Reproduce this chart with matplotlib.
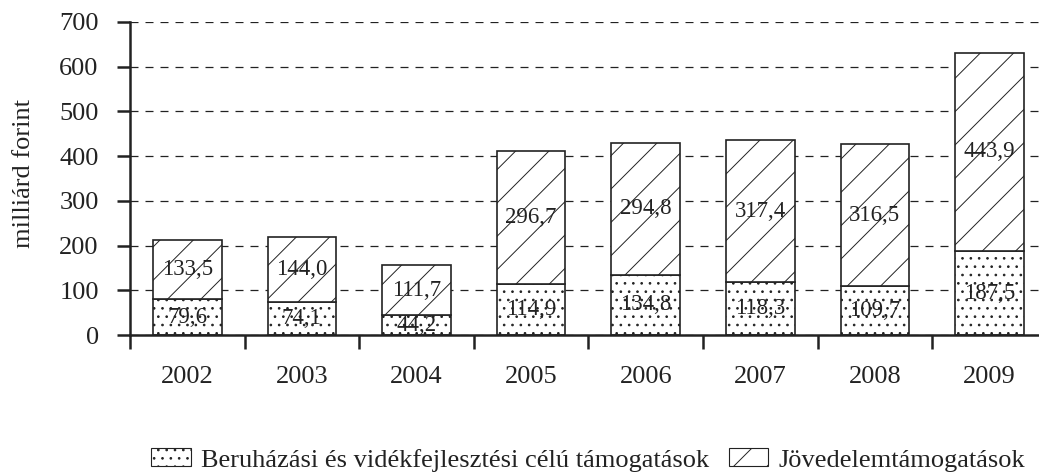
import numpy as np
import matplotlib.pyplot as plt
from matplotlib.patches import Patch

plt.rcParams['font.family'] = ['Liberation Serif', 'DejaVu Serif']
plt.rcParams['hatch.linewidth'] = 0.7
plt.rcParams['hatch.color'] = '#222222'

evek = ['2002', '2003', '2004', '2005', '2006', '2007', '2008', '2009']
beruhazasi = [79.6, 74.1, 44.2, 114.9, 134.8, 118.3, 109.7, 187.5]
jovedelem = [133.5, 144.0, 111.7, 296.7, 294.8, 317.4, 316.5, 443.9]
cimkek = ['Beruházási és vidékfejlesztési célú támogatások', 'Jövedelemtámogatások']

def fmt(v):
    return ('%.1f' % v).replace('.', ',')

fig = plt.figure(figsize=(10.39, 4.74), dpi=100)
ax = fig.add_axes([130 / 1039, 1 - 335 / 474, 909 / 1039, 313 / 474])

x = np.arange(len(evek))
w = 0.6
ax.bar(x, beruhazasi, w, color='white', edgecolor='#222222', linewidth=1.2, hatch='..', zorder=2)
ax.bar(x, jovedelem, w, bottom=beruhazasi, color='white', edgecolor='#222222', linewidth=1.2, hatch='/', zorder=2)

for i in range(len(evek)):
    ax.text(x[i], beruhazasi[i] / 2, fmt(beruhazasi[i]), ha='center', va='center', fontsize=16.5, color='#222222', zorder=3)
    ax.text(x[i], beruhazasi[i] + jovedelem[i] / 2, fmt(jovedelem[i]), ha='center', va='center', fontsize=16.5, color='#222222', zorder=3)

ax.set_xlim(-0.5, -0.5 + 909 / 114.6)
ax.set_ylim(0, 700)
ax.set_yticks(range(0, 701, 100))
ax.set_xticks(np.arange(-0.5, len(evek) - 0.5, 1))
ax.set_xticklabels([])
ax.set_xticks(x, minor=True)
ax.set_xticklabels(evek, minor=True)
ax.tick_params(axis='x', which='major', direction='out', length=10, width=1.8, color='#222222')
ax.tick_params(axis='x', which='minor', length=0, pad=22, labelsize=19, labelcolor='#222222')
ax.tick_params(axis='y', direction='out', length=9.5, width=1.8, pad=13, labelsize=19, color='#222222', labelcolor='#222222')

for s in ['top', 'right']:
    ax.spines[s].set_visible(False)
for s in ['left', 'bottom']:
    ax.spines[s].set_linewidth(1.8)
    ax.spines[s].set_color('#222222')

ax.set_axisbelow(True)
ax.yaxis.grid(True, color='#222222', linewidth=0.9, linestyle=(0, (6.4, 5.6)))
ax.set_ylabel('milliárd forint', fontsize=19, color='#222222')
ax.yaxis.set_label_coords(-0.1045, 0.515)

handles = [Patch(facecolor='white', edgecolor='#222222', hatch='..', linewidth=0.8),
           Patch(facecolor='white', edgecolor='#222222', hatch='/', linewidth=0.8)]
fig.legend(handles, cimkek, loc='center', bbox_to_anchor=(588 / 1039, 1 - 460 / 474), ncol=2, frameon=False,
           fontsize=19, handlelength=1.5, handleheight=0.65, handletextpad=0.38, columnspacing=0.76,
           labelcolor='#222222', borderpad=0)

fig.savefig('out.png', dpi=100)
